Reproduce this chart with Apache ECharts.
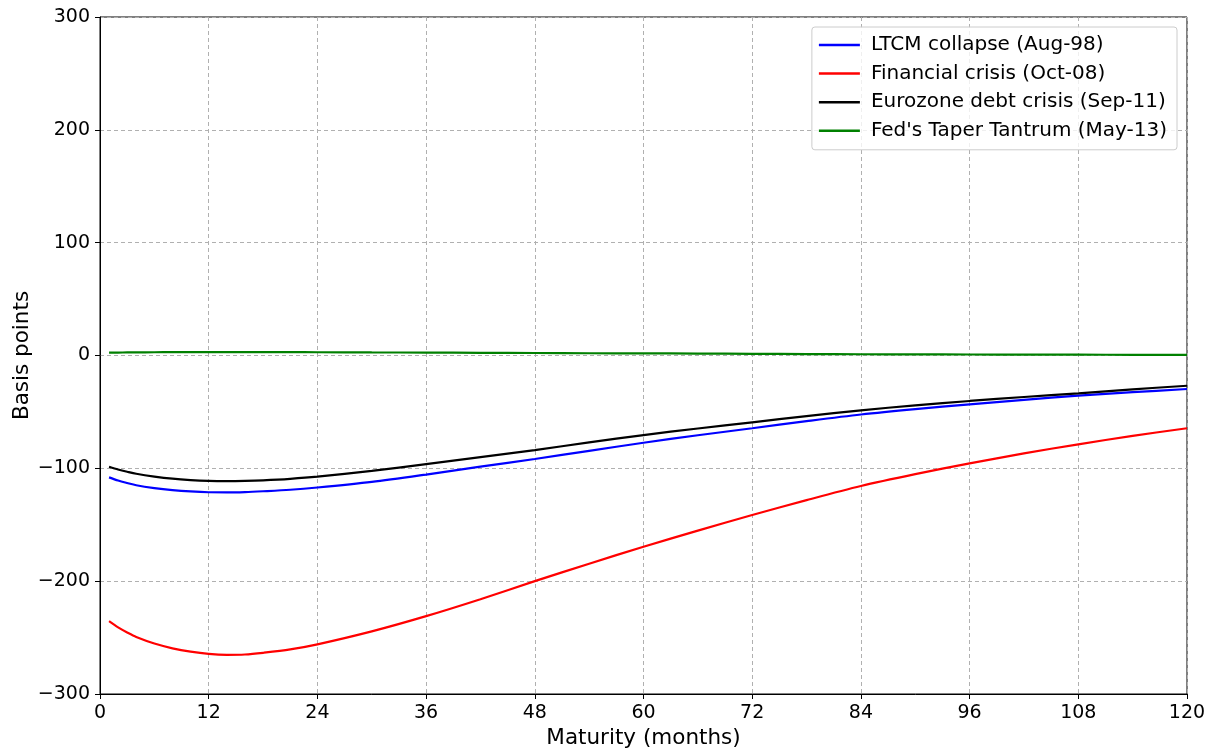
<!DOCTYPE html>
<html>
<head>
<meta charset="utf-8">
<script src="https://cdn.jsdelivr.net/npm/echarts@6/dist/echarts.min.js"></script>
<style>html,body{margin:0;padding:0;background:#fff}#c{width:1214px;height:751px}</style>
</head>
<body>
<div id="c"></div>
<script>
const months    = [1, 2, 3, 4, 6, 8, 10, 12, 14, 16, 18, 21, 24, 30, 36, 42, 48, 54, 60, 66, 72, 78, 84, 90, 96, 102, 108, 114, 120];
const ltcm      = [-108, -110.8, -113, -115, -117.5, -119.3, -120.5, -121.2, -121.3, -121, -120.3, -119, -117, -112, -105.5, -98.5, -91.7, -84.5, -77.3, -70.7, -64.5, -58.2, -52.3, -47.5, -43.3, -39.3, -35.5, -32.5, -29.7];
const financial = [-235.5, -241, -245.5, -249.5, -255.3, -259.5, -262.5, -264.5, -265.3, -265, -263.5, -260.5, -256, -244.5, -231, -216, -200, -184.5, -169.5, -155.2, -141.4, -128.2, -115.7, -105.2, -95.6, -86.8, -78.7, -71.2, -64.5];
const eurozone  = [-98.6, -101, -103, -104.8, -107.3, -109.2, -110.4, -111.1, -111.3, -111.1, -110.6, -109.3, -107.4, -102.3, -96.2, -90, -83.8, -77, -70.5, -64.7, -59.2, -53.7, -48.6, -44.2, -40.3, -36.8, -33.5, -30, -26.8];
const taper     = [2.5, 2.6, 2.7, 2.8, 2.9, 3, 3, 3, 3, 3, 3, 2.95, 2.9, 2.7, 2.6, 2.4, 2.2, 2, 1.9, 1.7, 1.5, 1.3, 1.1, 1, 0.9, 0.8, 0.7, 0.6, 0.5];
const seriesNames = ["LTCM collapse (Aug-98)", "Financial crisis (Oct-08)", "Eurozone debt crisis (Sep-11)", "Fed's Taper Tantrum (May-13)"];
const seriesColors = ["#0000ff", "#ff0000", "#000000", "#008000"];
const seriesValues = [ltcm, financial, eurozone, taper];
const xTicks = [0, 12, 24, 36, 48, 60, 72, 84, 96, 108, 120];
const yTicks = [-300, -200, -100, 0, 100, 200, 300];

const font = 'DejaVu Sans';
const chart = echarts.init(document.getElementById('c'), null, {renderer: 'canvas'});
const minusFmt = v => String(v).replace('-', '\u2212');
chart.setOption({
  animation: false,
  backgroundColor: '#fff',
  grid: {left: 100, right: 27, top: 17, bottom: 57, outerBoundsMode: 'none', containLabel: false, show: true, borderColor: '#000', borderWidth: 1, backgroundColor: 'transparent'},
  legend: {
    orient: 'vertical', right: 37, top: 27,
    padding: [8, 10, 9, 7],
    itemGap: 8.6, itemWidth: 41, itemHeight: 2.5, icon: 'rect',
    borderColor: '#cccccc', borderWidth: 1, borderRadius: 3,
    backgroundColor: 'rgba(255,255,255,0.8)',
    textStyle: {fontFamily: font, fontSize: 20, color: '#000', padding: [0, 0, 0, 6]},
    data: seriesNames
  },
  xAxis: {
    type: 'value', min: 0, max: 120, interval: 12,
    name: 'Maturity (months)', nameLocation: 'middle', nameGap: 33,
    nameTextStyle: {fontFamily: font, fontSize: 21.5, color: '#000'},
    axisLine: {show: true, onZero: false, lineStyle: {color: '#000', width: 1}},
    axisTick: {show: true, inside: false, length: 5, lineStyle: {color: '#000'}},
    axisLabel: {fontFamily: font, fontSize: 19, color: '#000', margin: 10, formatter: minusFmt},
    splitLine: {show: true, lineStyle: {color: '#b0b0b0', type: [4, 3], width: 1}}
  },
  yAxis: {
    type: 'value', min: -300, max: 300, interval: 100,
    name: 'Basis points', nameLocation: 'middle', nameGap: 78, nameRotate: 90, nameMoveOverlap: false,
    nameTextStyle: {fontFamily: font, fontSize: 21.5, color: '#000', verticalAlign: 'middle'},
    axisLine: {show: true, onZero: false, lineStyle: {color: '#000', width: 1}},
    axisTick: {show: true, inside: false, length: 5, lineStyle: {color: '#000'}},
    axisLabel: {fontFamily: font, fontSize: 19, color: '#000', margin: 10, formatter: minusFmt},
    splitLine: {show: true, lineStyle: {color: '#b0b0b0', type: [4, 3], width: 1}}
  },
  series: seriesNames.map((n, i) => ({
    name: n, type: 'line', smooth: 0.3, showSymbol: false, symbol: 'none',
    data: months.map((m, j) => [m, seriesValues[i][j]]),
    lineStyle: {color: seriesColors[i], width: 2.2},
    itemStyle: {color: seriesColors[i]},
    z: 3
  }))
});
</script>
</body>
</html>
